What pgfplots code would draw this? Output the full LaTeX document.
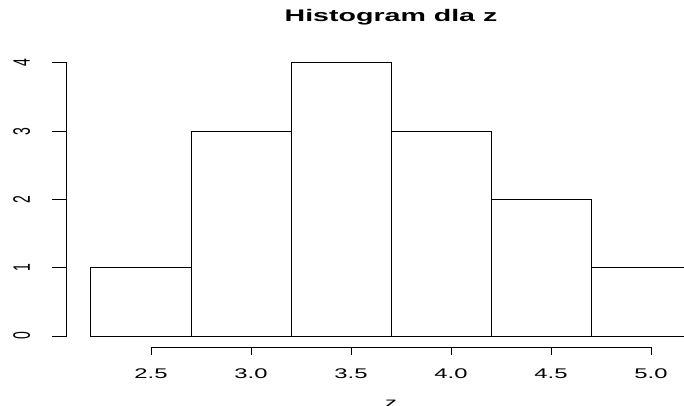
\documentclass[border=0pt]{standalone}
\usepackage{fontspec}
\setmainfont{Liberation Sans}
\usepackage{graphicx}
\usepackage{pgfplots}
\pgfplotsset{compat=1.18}
\newcommand\sx[1]{\scalebox{1.7}[1]{#1}}
\newcommand\sy[1]{\scalebox{1}[1.7]{#1}}
\begin{document}
\begin{tikzpicture}
\useasboundingbox (-67bp,-59bp) rectangle (617bp,347bp);
\clip (-67bp,-59bp) rectangle (617bp,347bp);
\begin{axis}[
  at={(0,0)}, anchor=south west,
  scale only axis, width=648bp, height=295bp,
  xmin=2.08, xmax=5.32, ymin=-0.16, ymax=4.16,
  axis line style={draw=none},
  major tick length=0pt,
  clip=false,
  xtick={2.5,3,3.5,4,4.5,5},
  xticklabels={\sx{2.5},\sx{3.0},\sx{3.5},\sx{4.0},\sx{4.5},\sx{5.0}},
  ytick={0,1,2,3,4},
  yticklabels={\sy{0},\sy{1},\sy{2},\sy{3},\sy{4}},
  tick label style={font=\fontsize{14bp}{16bp}\selectfont, inner sep=0pt},
  xticklabel style={anchor=base, yshift=-31bp},
  yticklabel style={xshift=-37bp, rotate=90, anchor=base},
  title={\sx{\bfseries Histogram dla z}},
  title style={at={(axis description cs:0.5,1)}, anchor=base, inner sep=0pt, yshift=25bp, font=\fontsize{16.8bp}{19bp}\selectfont},
  xlabel={\sx{z}},
  xlabel style={at={(axis description cs:0.5,0)}, anchor=north, inner sep=0pt, yshift=-53bp, font=\fontsize{14bp}{16bp}\selectfont},
]
\addplot[ybar interval, fill=white, draw=black, line width=1bp] coordinates {
  (2.2,1) (2.7,3) (3.2,4) (3.7,3) (4.2,2) (4.7,1) (5.2,1)
};
\draw[line width=1bp, line cap=rect] (axis cs:2.5,-0.16) -- (axis cs:5,-0.16);
\draw[line width=1bp, line cap=rect] (axis cs:2.08,0) -- (axis cs:2.08,4);
\pgfplotsinvokeforeach{2.5,3,3.5,4,4.5,5}{
  \draw[line width=1bp] (axis cs:#1,-0.16) -- ++(0pt,-8bp);
}
\pgfplotsinvokeforeach{0,1,2,3,4}{
  \draw[line width=1bp] (axis cs:2.08,#1) -- ++(-15bp,0pt);
}
\end{axis}
\end{tikzpicture}
\end{document}
